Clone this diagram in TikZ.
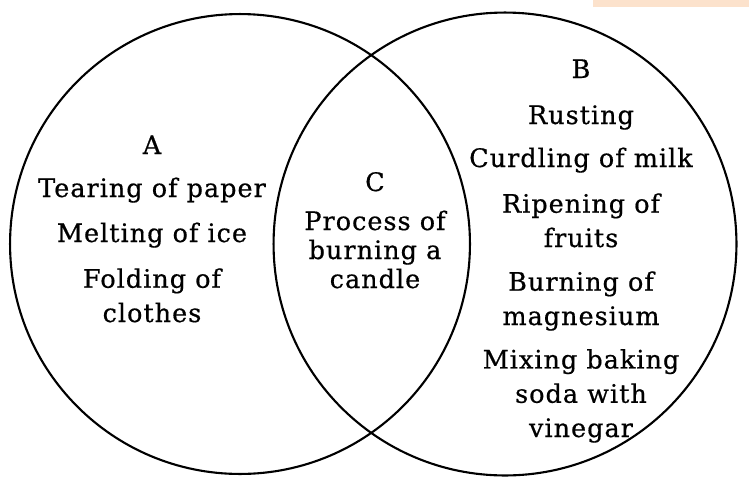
\documentclass[tikz,border=0pt]{standalone}
\usepackage{fontspec}
\setmainfont{DejaVu Serif}[LetterSpace=4,FakeBold=0.6]
\usepackage{xcolor}
\definecolor{peach}{RGB}{252,226,204}

\begin{document}
\begin{tikzpicture}[x=0.02cm,y=-0.02cm]
\tikzstyle{ring} =[line width=1.2pt]
\tikzstyle{item} =[anchor=base,align=center,inner sep=0pt,font=\fontsize{14.5}{19.5}\selectfont]
\tikzstyle{tag} =[anchor=base,inner sep=0pt,font=\fontsize{14.5}{19.5}\selectfont]
\useasboundingbox (0,0) rectangle (749,477);
\fill[peach] (593,0) rectangle (749,7);

\draw[ring] (240,244) circle [radius=4.6cm];
\draw[ring] (505,244) circle [radius=4.63cm];

% set A (anchored at the last line)
\node[tag](a) at (152,154){A};
\node[item](a1) at (152,197){Tearing of paper};
\node[item](a2) at (152,242){Melting of ice};
\node[item](a3) at (152,322){Folding of\\clothes};

% set C
\node[tag](c) at (375,191){C};
\node[item,font=\fontsize{14.5}{16.5}\selectfont](c1) at (375,288){Process of\\burning a\\candle};

% set B
\node[tag](b) at (581,78){B};
\node[item](b1) at (581,124){Rusting};
\node[item](b2) at (581,167){Curdling of milk};
\node[item](b3) at (581,247){Ripening of\\fruits};
\node[item](b4) at (581,325){Burning of\\magnesium};
\node[item](b5) at (581,437){Mixing baking\\soda with\\vinegar};
\end{tikzpicture}
\end{document}
